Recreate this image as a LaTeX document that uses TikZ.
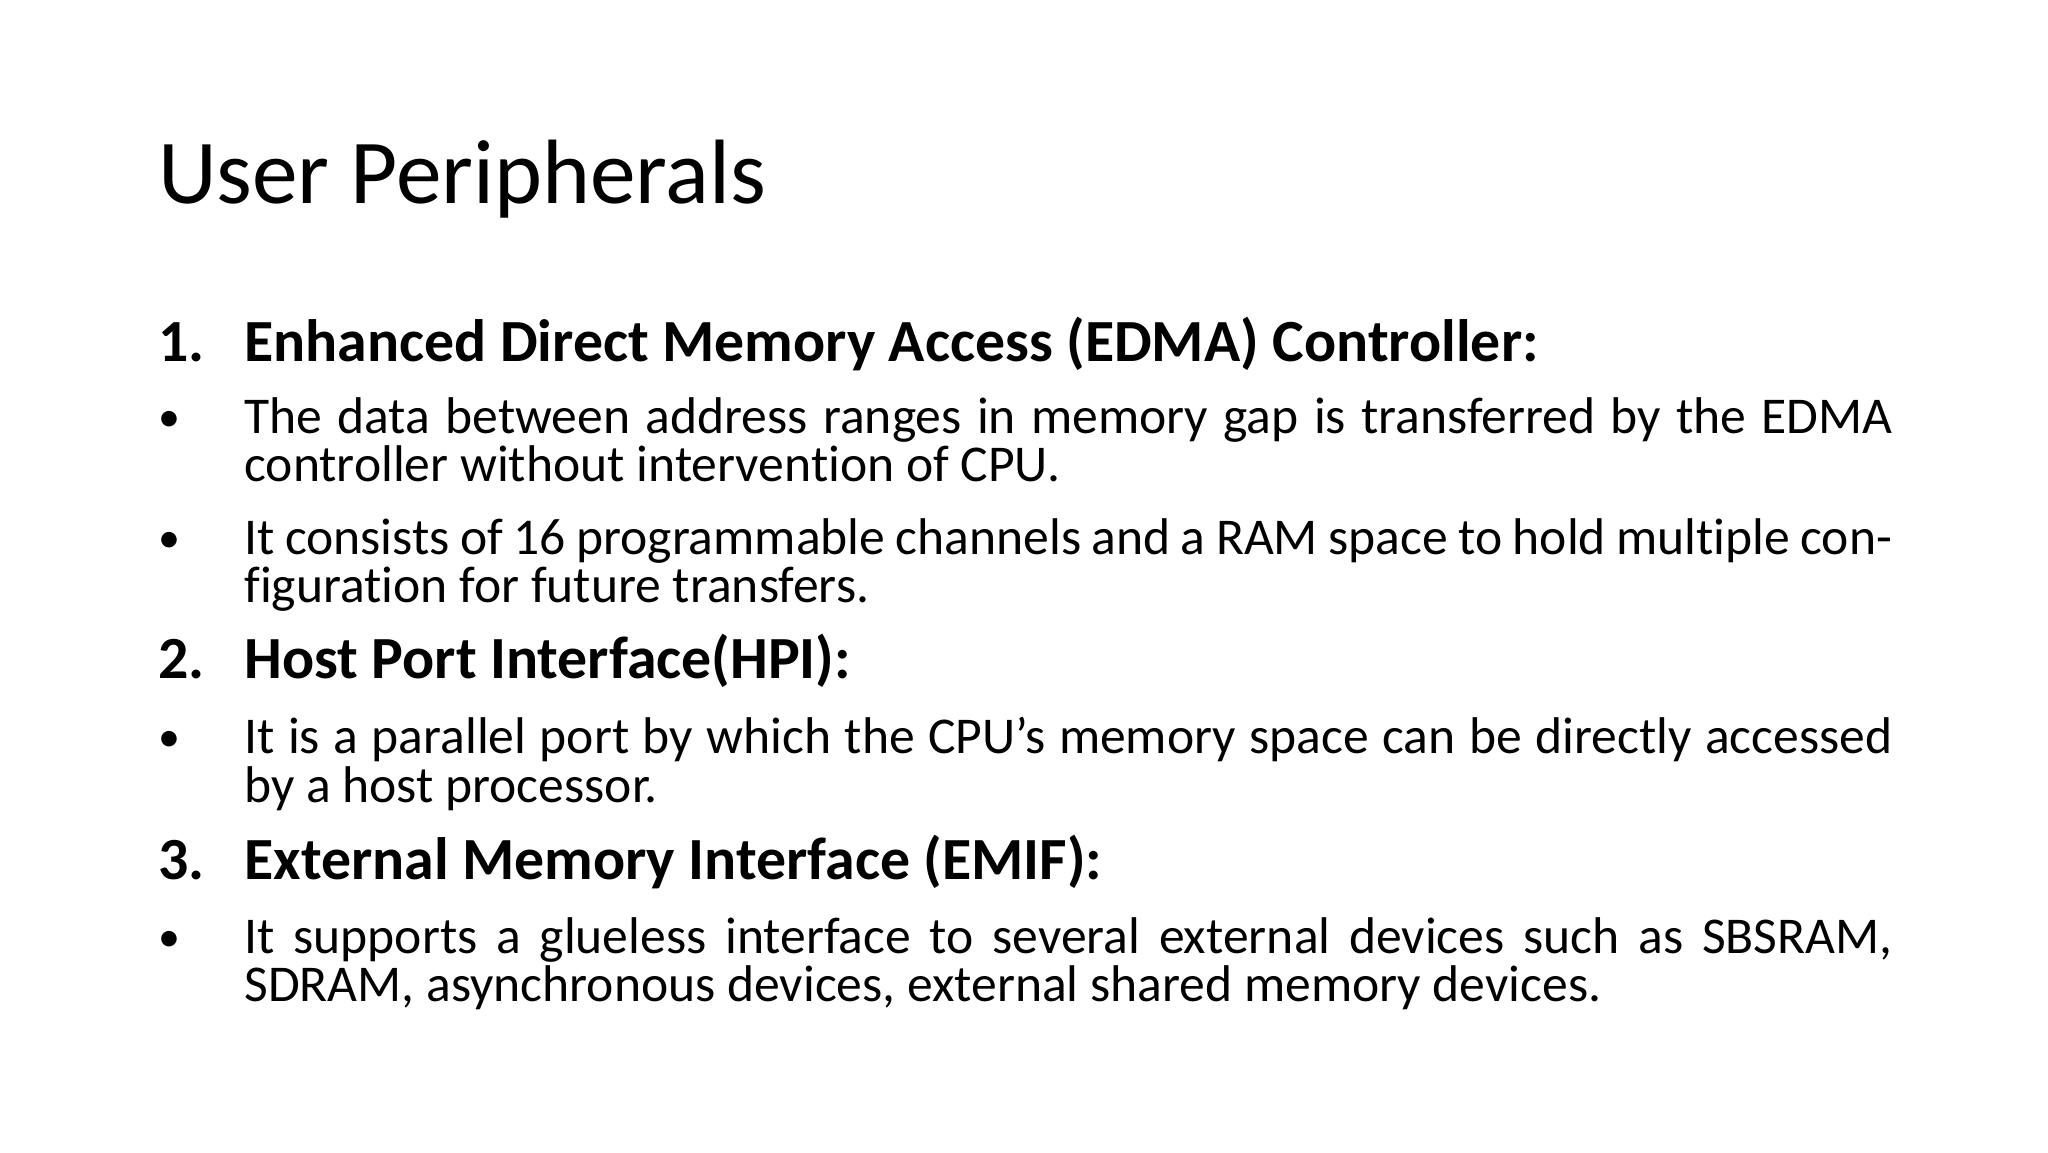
\documentclass[tikz,border=0pt]{standalone}
\usepackage{fontspec}
\setmainfont{Carlito}[Ligatures={NoCommon}]
\begin{document}
\begin{tikzpicture}[x=1pt,y=-1pt,
  body/.style={anchor=base west,inner sep=0pt,text width=824pt,align=justify,font=\fontsize{25.8}{24.3}\selectfont},
  bul/.style={anchor=base west,inner sep=0pt,font=\fontsize{22}{22}\selectfont},
  head/.style={anchor=base west,inner sep=0pt,font=\fontsize{29.9}{30}\selectfont\bfseries}]
\useasboundingbox (0,0) rectangle (1024,576);
\fill[white] (0,0) rectangle (1024,576);
\node[anchor=base west,inner sep=0pt,font=\fontsize{45.7}{46}\selectfont] (title) at (78.8,101.7) {User Peripherals};
\node[head] (n1) at (78.8,180.5) {1.};
\node[head] (h1) at (122,180.5) {Enhanced Direct Memory Access (EDMA) Controller:};
\node[bul] (b1) at (78.8,215.6) {•};
\node[body] (p1) at (122,216.6) {The data between address ranges in memory gap is transferred by the EDMA controller without intervention of CPU.};
\node[bul] (b2) at (78.8,276) {•};
\node[body] (p2) at (122,277) {It consists of 16 programmable channels and a RAM space to hold multiple configuration for future transfers.};
\node[head] (n2) at (78.8,339.4) {2.};
\node[head] (h2) at (122,339.4) {Host Port Interface(HPI):};
\node[bul] (b3) at (78.8,375.8) {•};
\node[body] (p3) at (122,376.8) {It is a parallel port by which the CPU’s memory space can be directly accessed by a host processor.};
\node[head] (n3) at (78.8,439.8) {3.};
\node[head] (h3) at (122,439.8) {External Memory Interface (EMIF):};
\node[bul] (b4) at (78.8,475.6) {•};
\node[body] (p4) at (122,476.6) {It supports a glueless interface to several external devices such as SBSRAM, SDRAM, asynchronous devices, external shared memory devices.};
\end{tikzpicture}
\end{document}
